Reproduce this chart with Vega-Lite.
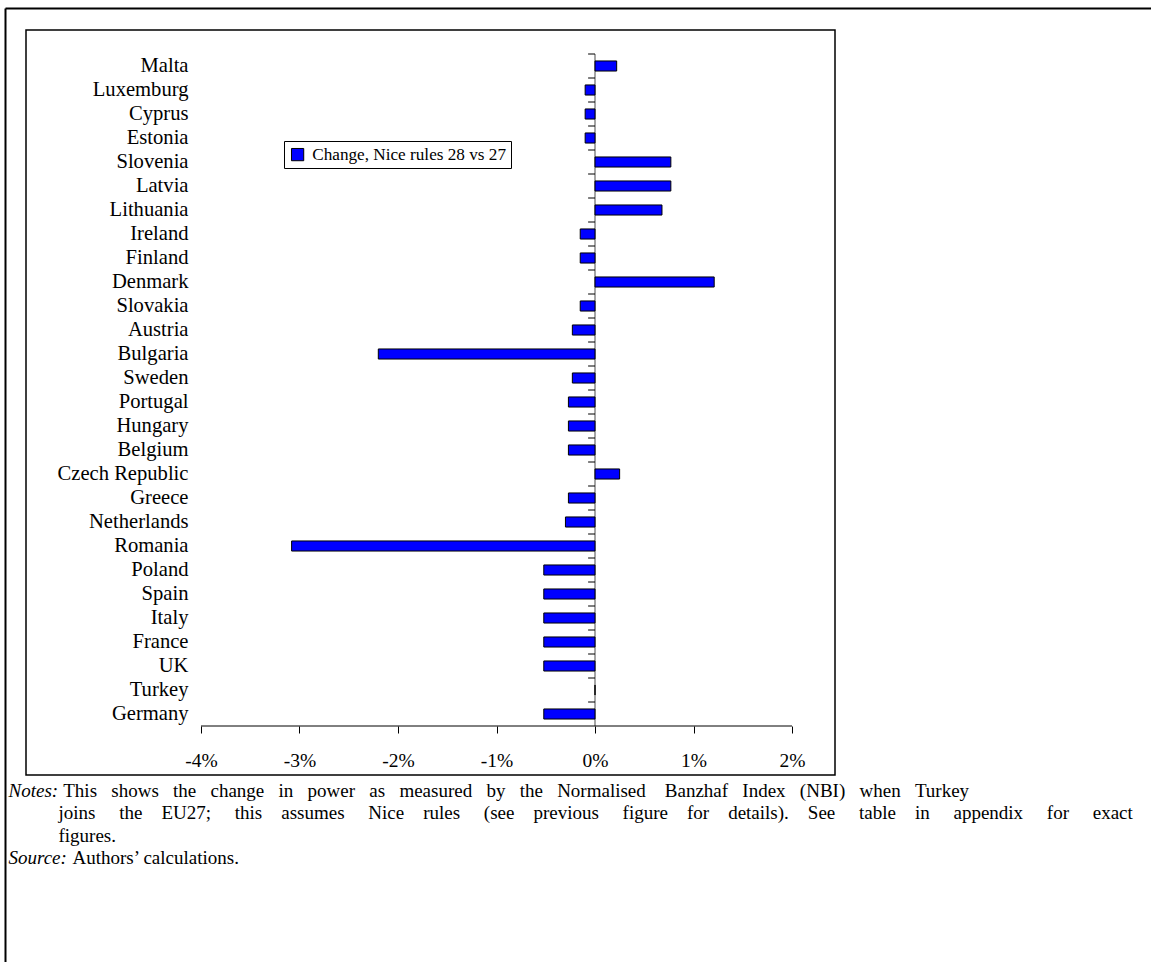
{
  "$schema": "https://vega.github.io/schema/vega-lite/v6.json",
  "width": 809,
  "height": 745,
  "autosize": {"type": "none"},
  "padding": {"left": 26, "top": 30, "right": 316, "bottom": 187},
  "background": "white",
  "config": {
    "view": {"stroke": "black", "strokeWidth": 1.5},
    "font": "Liberation Serif",
    "axis": {"grid": false, "labelFont": "Liberation Serif", "titleFont": "Liberation Serif", "labelColor": "black", "titleColor": "black", "tickColor": "black", "domainColor": "black", "titleFontWeight": "normal"},
    "legend": {"labelFont": "Liberation Serif"}
  },
  "layer": [
    {
      "data": {"values": [
        {"country": "Malta", "change": 0.22},
        {"country": "Luxemburg", "change": -0.10},
        {"country": "Cyprus", "change": -0.10},
        {"country": "Estonia", "change": -0.10},
        {"country": "Slovenia", "change": 0.77},
        {"country": "Latvia", "change": 0.77},
        {"country": "Lithuania", "change": 0.68},
        {"country": "Ireland", "change": -0.15},
        {"country": "Finland", "change": -0.15},
        {"country": "Denmark", "change": 1.21},
        {"country": "Slovakia", "change": -0.15},
        {"country": "Austria", "change": -0.23},
        {"country": "Bulgaria", "change": -2.20},
        {"country": "Sweden", "change": -0.23},
        {"country": "Portugal", "change": -0.27},
        {"country": "Hungary", "change": -0.27},
        {"country": "Belgium", "change": -0.27},
        {"country": "Czech Republic", "change": 0.25},
        {"country": "Greece", "change": -0.27},
        {"country": "Netherlands", "change": -0.30},
        {"country": "Romania", "change": -3.08},
        {"country": "Poland", "change": -0.52},
        {"country": "Spain", "change": -0.52},
        {"country": "Italy", "change": -0.52},
        {"country": "France", "change": -0.52},
        {"country": "UK", "change": -0.52},
        {"country": "Turkey", "change": 0},
        {"country": "Germany", "change": -0.52}
      ]},
      "encoding": {
        "y": {
          "field": "country", "type": "nominal", "sort": null,
          "scale": {
            "domain": ["Malta", "Luxemburg", "Cyprus", "Estonia", "Slovenia", "Latvia", "Lithuania", "Ireland", "Finland", "Denmark", "Slovakia", "Austria", "Bulgaria", "Sweden", "Portugal", "Hungary", "Belgium", "Czech Republic", "Greece", "Netherlands", "Romania", "Poland", "Spain", "Italy", "France", "UK", "Turkey", "Germany"],
            "range": [24, 696], "paddingInner": 0, "paddingOuter": 0
          },
          "axis": {
            "orient": "left", "offset": -162, "domain": false, "ticks": false, "tickSize": 0, "labelPadding": 0, "labelFontSize": 20.6, "labelAlign": "right",
            "title": "Authors\u2019 calculations.", "titleX": -116, "titleY": 818, "titleAngle": 0, "titleAlign": "left", "titleBaseline": "top", "titleAnchor": "start", "titleFontSize": 19
          }
        }
      },
      "layer": [
        {
          "mark": {"type": "tick", "color": "black", "size": 24, "thickness": 1},
          "encoding": {"x": {"datum": 0}}
        },
        {
          "mark": {"type": "rule", "color": "black", "strokeWidth": 1},
          "encoding": {
            "x": {"datum": 0},
            "x2": {"datum": -0.07},
            "y": {"field": "country", "type": "nominal", "bandPosition": 0}
          }
        },
        {
          "transform": [{"filter": "datum.country === 'Germany'"}],
          "mark": {"type": "rule", "color": "black", "strokeWidth": 1},
          "encoding": {
            "x": {"datum": -4},
            "x2": {"datum": 2},
            "y": {"field": "country", "type": "nominal", "bandPosition": 1}
          }
        },
        {
          "mark": {"type": "bar", "height": {"band": 0.42}, "stroke": "black", "strokeWidth": 1},
          "encoding": {
            "x": {
              "field": "change", "type": "quantitative", "stack": null,
              "scale": {"domain": [-5.7766, 2.4365], "nice": false, "zero": false},
              "axis": {
                "orient": "bottom", "offset": -49, "domain": false,
                "values": [-4, -3, -2, -1, 0, 1, 2],
                "labelExpr": "datum.value + '%'",
                "tickSize": 7, "tickWidth": 1, "labelPadding": 18, "labelFontSize": 19.5, "labelFlush": false,
                "title": [
                  "\u200b\u00a0This\u00a0\u00a0\u00a0shows\u00a0\u00a0\u00a0the\u00a0\u00a0\u00a0change\u00a0\u00a0\u00a0in\u00a0\u00a0\u00a0power\u00a0\u00a0\u00a0as\u00a0\u00a0\u00a0measured\u00a0\u00a0\u00a0by\u00a0\u00a0\u00a0the\u00a0\u00a0\u00a0Normalised\u00a0\u00a0\u00a0\u00a0Banzhaf\u00a0\u00a0\u00a0Index\u00a0\u00a0\u00a0(NBI)\u00a0\u00a0\u00a0when\u00a0\u00a0\u00a0Turkey",
                  "joins\u00a0\u00a0\u00a0\u00a0\u00a0the\u00a0\u00a0\u00a0\u00a0EU27;\u00a0\u00a0\u00a0\u00a0\u00a0this\u00a0\u00a0\u00a0\u00a0assumes\u00a0\u00a0\u00a0\u00a0\u00a0Nice\u00a0\u00a0\u00a0\u00a0rules\u00a0\u00a0\u00a0\u00a0\u00a0(see\u00a0\u00a0\u00a0\u00a0previous\u00a0\u00a0\u00a0\u00a0\u00a0figure\u00a0\u00a0\u00a0\u00a0for\u00a0\u00a0\u00a0\u00a0details).\u00a0\u00a0\u00a0\u00a0See\u00a0\u00a0\u00a0\u00a0\u00a0table\u00a0\u00a0\u00a0\u00a0in\u00a0\u00a0\u00a0\u00a0\u00a0appendix\u00a0\u00a0\u00a0\u00a0\u00a0for\u00a0\u00a0\u00a0\u00a0\u00a0exact",
                  "figures."
                ],
                "titleX": 32, "titleY": 55, "titleAlign": "left", "titleAnchor": "start", "titleBaseline": "top",
                "titleFontSize": 19, "titleLineHeight": 22.5, "titleAngle": 0, "titleLimit": 1200
              }
            },
            "color": {
              "datum": "Change, Nice rules 28 vs 27",
              "scale": {"range": ["#0000ff"]},
              "legend": {
                "title": null, "orient": "none", "legendX": 258, "legendY": 111,
                "strokeColor": "black", "padding": 5, "fillColor": "white",
                "symbolType": "square", "symbolSize": 150, "symbolStrokeColor": "black", "symbolStrokeWidth": 1,
                "labelFontSize": 17.2, "labelColor": "black", "labelOffset": 6, "labelLimit": 400
              }
            }
          }
        }
      ]
    },
    {
      "data": {"values": [{"f": 0}, {"f": 1}]},
      "mark": {"type": "point", "opacity": 0},
      "encoding": {
        "x": {
          "field": "f", "type": "quantitative",
          "scale": {"domain": [0, 1], "range": [-21, 1130], "nice": false, "zero": false},
          "axis": {
            "orient": "top", "offset": 22, "domain": true, "domainWidth": 2, "domainColor": "black",
            "ticks": false, "labels": false, "grid": false,
            "title": "Notes:", "titleX": -18, "titleY": 773, "titleFontStyle": "italic", "titleFontSize": 19,
            "titleAlign": "left", "titleBaseline": "top", "titleAnchor": "start", "titleAngle": 0
          }
        },
        "y": {
          "field": "f", "type": "quantitative",
          "scale": {"domain": [0, 1], "range": [-22, 932], "nice": false, "zero": false},
          "axis": {
            "orient": "left", "offset": 21, "domain": true, "domainWidth": 2, "domainColor": "black",
            "ticks": false, "labels": false, "grid": false,
            "title": "Source:", "titleX": 3, "titleY": 818, "titleFontStyle": "italic", "titleFontSize": 19,
            "titleAlign": "left", "titleBaseline": "top", "titleAnchor": "start", "titleAngle": 0
          }
        }
      }
    }
  ],
  "resolve": {"scale": {"x": "independent", "y": "independent"}}
}
